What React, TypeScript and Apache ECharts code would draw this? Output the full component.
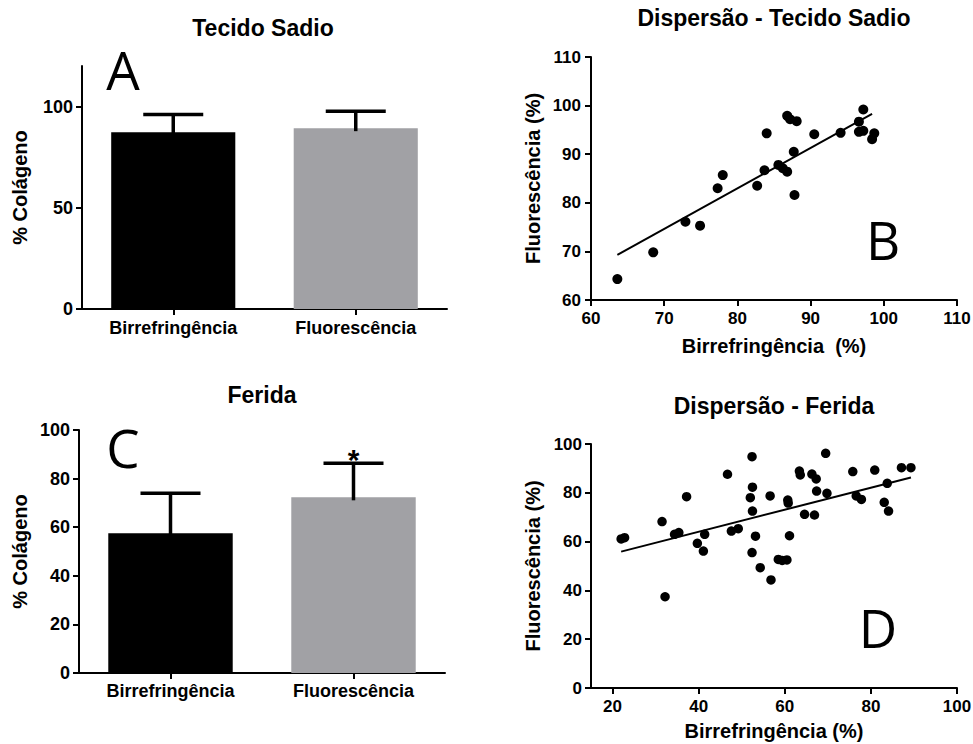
import React, { useEffect, useRef } from "react";
import * as echarts from "echarts";

// ---------- data ----------
const barCategories = ["Birrefringência", "Fluorescência"];
const healthyMeans = [87.3, 89.3];
const healthyUpper = [96.0, 97.7];
const woundMeans = [57.5, 72.3];
const woundUpper = [74.0, 86.3];
const woundMarks = ["", "*"];
const healthyMarks = ["", ""];

const healthyBarTicks = [0, 50, 100];
const woundBarTicks = [0, 20, 40, 60, 80, 100];
const woundScatterXTicks = [20, 40, 60, 80, 100];

const healthyBirr = [63.6, 68.5, 72.9, 74.9, 77.3, 78.0, 82.7, 83.7, 84.0, 85.6, 86.8, 87.2, 88.1, 86.8, 86.2, 87.7, 87.8, 90.5, 94.1, 96.6, 97.2, 96.6, 97.2, 98.7, 98.4];
const healthyFluor = [64.3, 69.8, 76.1, 75.3, 83.0, 85.7, 83.5, 86.7, 94.3, 87.8, 97.9, 97.2, 96.8, 86.4, 87.1, 90.5, 81.6, 94.1, 94.4, 96.7, 99.2, 94.6, 94.8, 94.3, 93.1];
const healthyFitX = [63.6, 98.4];
const healthyFitY = [69.3, 98.3];

const woundBirr = [22.0, 22.8, 31.5, 32.2, 34.4, 35.4, 37.2, 39.7, 41.4, 41.1, 46.7, 47.6, 49.2, 52.4, 52.5, 52.0, 52.5, 53.2, 52.4, 54.3, 56.6, 56.8, 58.5, 59.4, 60.5, 60.7, 60.8, 61.1, 63.4, 63.6, 64.6, 66.3, 67.3, 67.4, 66.9, 69.5, 69.8, 75.8, 76.6, 77.8, 80.9, 83.1, 83.8, 84.1, 87.1, 89.3];
const woundFluor = [61.1, 61.6, 68.2, 37.4, 63.0, 63.7, 78.4, 59.3, 63.0, 56.1, 87.6, 64.3, 65.3, 94.8, 82.3, 78.0, 72.5, 62.2, 55.5, 49.3, 78.7, 44.3, 52.7, 52.3, 52.5, 77.0, 75.8, 62.4, 88.9, 87.3, 71.2, 87.7, 85.7, 80.7, 70.9, 96.2, 79.8, 88.7, 78.7, 77.3, 89.3, 76.1, 83.9, 72.5, 90.3, 90.3];
const woundFitX = [22.0, 89.3];
const woundFitY = [55.9, 86.3];

// ---------- styles ----------
const FONT = "'Liberation Sans', Arial, Helvetica, sans-serif";
const LETTER_FONT = "'Open Sans', 'Noto Sans', sans-serif";
const BLACK = "#000000";
const GRAY = "#a1a1a5";

const zip = (a: number[], b: number[]) => a.map((v, i) => [v, b[i]]);

function axisCommon() {
  return {
    axisLine: { show: true, lineStyle: { color: BLACK, width: 2 } },
    axisTick: { show: true, length: 6, lineStyle: { color: BLACK, width: 2 } },
    axisLabel: { color: BLACK, fontSize: 17, fontWeight: "bold", fontFamily: FONT, margin: 10 },
    splitLine: { show: false },
    nameTextStyle: { color: BLACK, fontSize: 20, fontWeight: "bold", fontFamily: FONT },
  };
}

function errorSeries(xAxisIndex: number, means: number[], upper: number[], marks: string[]) {
  return {
    type: "custom",
    xAxisIndex,
    yAxisIndex: xAxisIndex,
    z: 5,
    encode: { x: 0, y: [1, 2] },
    data: means.map((m, i) => [i, m, upper[i]]),
    renderItem: (params: any, api: any) => {
      const idx = api.value(0);
      const base = api.coord([idx, api.value(1)]);
      const top = api.coord([idx, api.value(2)]);
      const half = 30;
      const children: any[] = [
        { type: "line", shape: { x1: base[0], y1: base[1] + 3, x2: top[0], y2: top[1] }, style: { stroke: BLACK, lineWidth: 3.5 } },
        { type: "line", shape: { x1: top[0] - half, y1: top[1], x2: top[0] + half, y2: top[1] }, style: { stroke: BLACK, lineWidth: 3.5 } },
      ];
      const mark = marks[params.dataIndex];
      if (mark) {
        children.push({
          type: "text",
          x: top[0],
          y: top[1] - 4,
          style: { text: mark, fontSize: 30, fontWeight: "bold", fontFamily: FONT, fill: BLACK, align: "center", verticalAlign: "middle" },
        });
      }
      return { type: "group", children };
    },
  };
}

function textEl(text: string, x: number, y: number, size: number, weight: string, family: string) {
  return {
    type: "text",
    x,
    y,
    style: { text, fontSize: size, fontWeight: weight, fontFamily: family, fill: BLACK, align: "center", verticalAlign: "middle" },
  };
}

export default function App() {
  const ref = useRef<HTMLDivElement>(null);

  useEffect(() => {
    document.body.style.margin = "0";
    if (!ref.current) return;
    const chart = echarts.init(ref.current, undefined, { renderer: "svg" });

    const option: any = {
      animation: false,
      backgroundColor: "#ffffff",
      grid: [
        { left: 82, top: 66, right: 526, bottom: 435, outerBoundsMode: "none" },
        { left: 79, top: 430, right: 528, bottom: 71, outerBoundsMode: "none" },
        { left: 591, top: 57, right: 16, bottom: 444, outerBoundsMode: "none" },
        { left: 591, top: 444, right: 16, bottom: 56, outerBoundsMode: "none" },
      ],
      xAxis: [
        {
          ...axisCommon(),
          gridIndex: 0,
          type: "category",
          data: barCategories,
          axisTick: { show: true, length: 6, alignWithLabel: true, lineStyle: { color: BLACK, width: 2 } },
          axisLabel: { color: BLACK, fontSize: 18, fontWeight: "bold", fontFamily: FONT, margin: 10 },
        },
        {
          ...axisCommon(),
          gridIndex: 1,
          type: "category",
          data: barCategories,
          axisTick: { show: true, length: 6, alignWithLabel: true, lineStyle: { color: BLACK, width: 2 } },
          axisLabel: { color: BLACK, fontSize: 18, fontWeight: "bold", fontFamily: FONT, margin: 9 },
        },
        {
          ...axisCommon(),
          gridIndex: 2,
          type: "value",
          min: 60,
          max: 110,
          interval: 10,
          name: "Birrefringência  (%)",
          nameLocation: "middle",
          nameGap: 36,
        },
        {
          ...axisCommon(),
          gridIndex: 3,
          type: "value",
          min: 15,
          max: 100,
          name: "Birrefringência (%)",
          nameLocation: "middle",
          nameGap: 33,
          axisTick: { show: true, length: 6, customValues: woundScatterXTicks, lineStyle: { color: BLACK, width: 2 } },
          axisLabel: { color: BLACK, fontSize: 17, fontWeight: "bold", fontFamily: FONT, margin: 10, customValues: woundScatterXTicks },
        },
      ],
      yAxis: [
        {
          ...axisCommon(),
          gridIndex: 0,
          type: "value",
          min: 0,
          max: 120,
          name: "% Colágeno",
          nameLocation: "middle",
          nameGap: 52,
          axisTick: { show: true, length: 6, customValues: healthyBarTicks, lineStyle: { color: BLACK, width: 2 } },
          axisLabel: { color: BLACK, fontSize: 18, fontWeight: "bold", fontFamily: FONT, margin: 9, customValues: healthyBarTicks },
        },
        {
          ...axisCommon(),
          gridIndex: 1,
          type: "value",
          min: 0,
          max: 100,
          name: "% Colágeno",
          nameLocation: "middle",
          nameGap: 49,
          axisTick: { show: true, length: 6, customValues: woundBarTicks, lineStyle: { color: BLACK, width: 2 } },
          axisLabel: { color: BLACK, fontSize: 18, fontWeight: "bold", fontFamily: FONT, margin: 9, customValues: woundBarTicks },
        },
        {
          ...axisCommon(),
          gridIndex: 2,
          type: "value",
          min: 60,
          max: 110,
          interval: 10,
          name: "Fluorescência (%)",
          nameLocation: "middle",
          nameGap: 48,
          axisLabel: { color: BLACK, fontSize: 17, fontWeight: "bold", fontFamily: FONT, margin: 10 },
        },
        {
          ...axisCommon(),
          gridIndex: 3,
          type: "value",
          min: 0,
          max: 100,
          interval: 20,
          name: "Fluorescência (%)",
          nameLocation: "middle",
          nameGap: 48,
          axisLabel: { color: BLACK, fontSize: 17, fontWeight: "bold", fontFamily: FONT, margin: 9 },
        },
      ],
      series: [
        {
          type: "bar",
          xAxisIndex: 0,
          yAxisIndex: 0,
          barWidth: "68%",
          data: healthyMeans.map((v, i) => ({ value: v, itemStyle: { color: i === 0 ? BLACK : GRAY } })),
        },
        errorSeries(0, healthyMeans, healthyUpper, healthyMarks),
        {
          type: "bar",
          xAxisIndex: 1,
          yAxisIndex: 1,
          barWidth: "68%",
          data: woundMeans.map((v, i) => ({ value: v, itemStyle: { color: i === 0 ? BLACK : GRAY } })),
        },
        errorSeries(1, woundMeans, woundUpper, woundMarks),
        {
          type: "scatter",
          xAxisIndex: 2,
          yAxisIndex: 2,
          symbolSize: 10,
          itemStyle: { color: BLACK, opacity: 1 },
          data: zip(healthyBirr, healthyFluor),
        },
        {
          type: "line",
          xAxisIndex: 2,
          yAxisIndex: 2,
          symbol: "none",
          lineStyle: { color: BLACK, width: 2 },
          data: zip(healthyFitX, healthyFitY),
        },
        {
          type: "scatter",
          xAxisIndex: 3,
          yAxisIndex: 3,
          symbolSize: 9.5,
          itemStyle: { color: BLACK, opacity: 1 },
          data: zip(woundBirr, woundFluor),
        },
        {
          type: "line",
          xAxisIndex: 3,
          yAxisIndex: 3,
          symbol: "none",
          lineStyle: { color: BLACK, width: 2 },
          data: zip(woundFitX, woundFitY),
        },
      ],
      graphic: [
        textEl("Tecido Sadio", 263, 28, 23, "bold", FONT),
        textEl("Ferida", 262, 395, 23, "bold", FONT),
        textEl("Dispersão - Tecido Sadio", 774, 18, 23, "bold", FONT),
        textEl("Dispersão - Ferida", 774, 406, 23, "bold", FONT),
        textEl("A", 123, 69, 53, "normal", LETTER_FONT),
        textEl("C", 123, 447, 53, "normal", LETTER_FONT),
        textEl("B", 883, 239, 53, "normal", LETTER_FONT),
        textEl("D", 878, 627, 53, "normal", LETTER_FONT),
      ],
    };

    chart.setOption(option);
    return () => {
      chart.dispose();
    };
  }, []);

  return <div ref={ref} style={{ width: 973, height: 744 }} />;
}
